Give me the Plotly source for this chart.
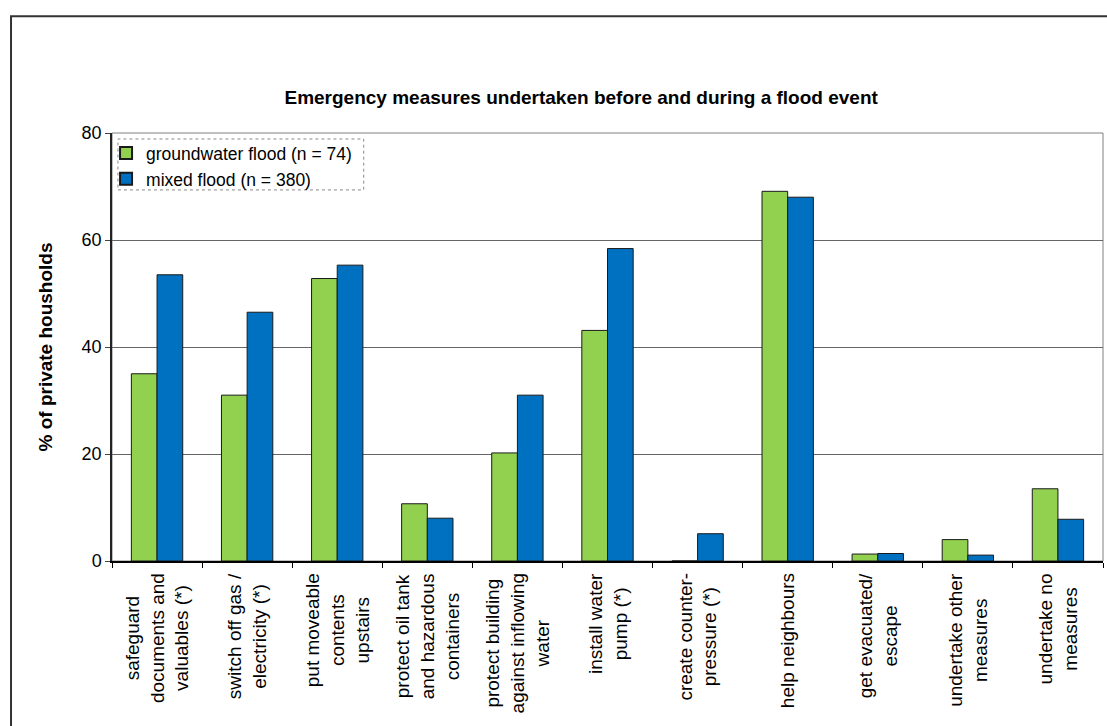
import plotly.graph_objects as go

categories = [
    "safeguard<br>documents and<br>valuables (*)",
    "switch off gas /<br>electricity (*)",
    "put moveable<br>contents<br>upstairs",
    "protect oil tank<br>and hazardous<br>containers",
    "protect building<br>against inflowing<br>water",
    "install water<br>pump (*)",
    "create counter-<br>pressure (*)",
    "help neighbours",
    "get evacuated/<br>escape",
    "undertake other<br>measures",
    "undertake no<br>measures",
]
groundwater = [35.0, 31.0, 52.8, 10.7, 20.2, 43.1, 0.0, 69.1, 1.3, 4.0, 13.5]
mixed = [53.5, 46.5, 55.3, 8.0, 31.0, 58.4, 5.1, 68.0, 1.4, 1.1, 7.8]
series_names = ["groundwater flood (n = 74)", "mixed flood (n = 380)"]
y_ticks = [0, 20, 40, 60, 80]

FONT = "Liberation Sans, Arial, sans-serif"

fig = go.Figure()
fig.add_trace(go.Bar(x=categories, y=groundwater, name=series_names[0],
                     marker=dict(color="#92D050", line=dict(color="#1a1a1a", width=1))))
fig.add_trace(go.Bar(x=categories, y=mixed, name=series_names[1],
                     marker=dict(color="#0070C0", line=dict(color="#1a1a1a", width=1))))

# category labels as centred, rotated annotations at the category positions
for c in categories:
    fig.add_annotation(x=c, xref="x", y=0, yref="paper", yshift=-10,
                       text=c, textangle=-90, showarrow=False,
                       xanchor="center", yanchor="top", align="center",
                       font=dict(family=FONT, size=19, color="#000"))

# plot-area frame (grey)
fig.add_shape(type="rect", xref="paper", yref="paper", x0=0, x1=1, y0=0, y1=1,
              line=dict(color="#808080", width=1), layer="below")
# dashed legend frame
fig.add_shape(type="rect", xref="paper", yref="paper", x0=0.006, x1=0.254, y0=0.867, y1=0.986,
              line=dict(color="#888888", width=1, dash="dot"), fillcolor="rgba(0,0,0,0)")
# outer chart border
fig.add_shape(type="rect", xref="paper", yref="paper", x0=-0.1019, x1=1.02, y0=-0.40, y1=1.273,
              line=dict(color="#333333", width=2))

fig.update_layout(
    width=1107, height=726,
    margin=dict(l=112, r=4, t=133, b=165),
    paper_bgcolor="white", plot_bgcolor="white",
    barmode="group", bargap=0.43, bargroupgap=0,
    font=dict(family=FONT, color="#000"),
    title=dict(text="<b>Emergency measures undertaken before and during a flood event</b>",
               x=0.525, xref="container", xanchor="center",
               y=1 - 97 / 726, yref="container", yanchor="middle",
               font=dict(family=FONT, size=19, color="#000")),
    legend=dict(x=-0.006, y=0.995, xanchor="left", yanchor="top",
                bgcolor="rgba(0,0,0,0)", borderwidth=0,
                font=dict(family=FONT, size=17.5, color="#000"),
                tracegroupgap=0, itemsizing="constant"),
    showlegend=True,
)
fig.update_xaxes(showticklabels=False, ticks="outside", tickson="boundaries", ticklen=5,
                 tickcolor="#000", showline=True, linecolor="#000", linewidth=2,
                 showgrid=False, zeroline=False)
fig.update_yaxes(range=[0, 80], tickvals=y_ticks, ticks="outside", ticklen=5, tickcolor="#444",
                 showline=True, linecolor="#222", linewidth=1.5,
                 showgrid=True, gridcolor="#666666", gridwidth=1, zeroline=False,
                 tickfont=dict(family=FONT, size=18, color="#000"),
                 title=dict(text="<b>% of private housholds</b>", standoff=24,
                            font=dict(family=FONT, size=19, color="#000")))

fig.write_html("out.html", config={"displayModeBar": False},
               post_script="document.body.style.margin='0px';")
